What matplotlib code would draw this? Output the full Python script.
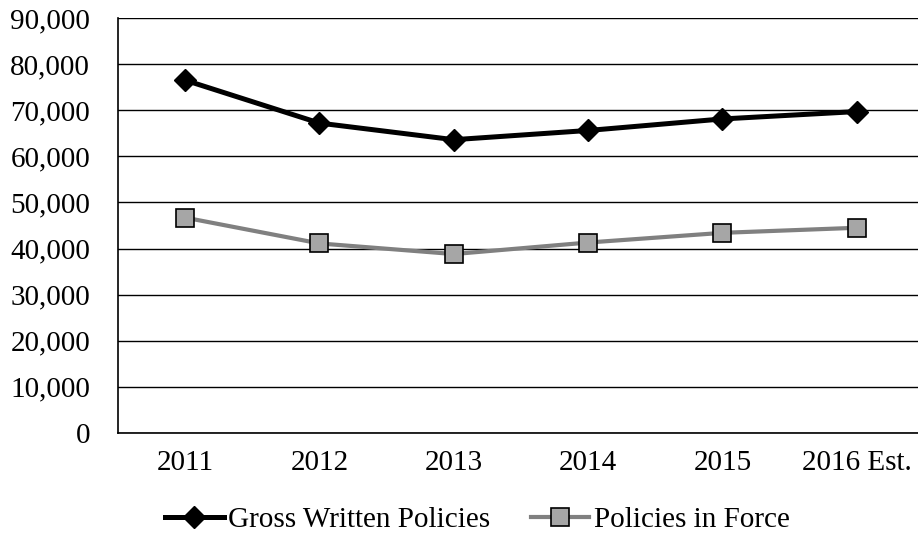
import matplotlib.pyplot as plt
from matplotlib.ticker import FuncFormatter

plt.rcParams['font.family'] = ['Liberation Serif', 'DejaVu Serif']

years = ["2011", "2012", "2013", "2014", "2015", "2016 Est."]
gross_written = [76500, 67200, 63600, 65600, 68100, 69700]
in_force = [46700, 41100, 38800, 41300, 43400, 44500]

fig = plt.figure(figsize=(9.18, 5.39), dpi=100)
ax = fig.add_axes([0.1285, 0.1967, 0.878, 0.770])

x = list(range(len(years)))
ax.plot(x, gross_written, color="black", lw=3.6, marker="D", ms=11,
        mfc="black", mec="black", label="Gross Written Policies", zorder=4)
ax.plot(x, in_force, color="#808080", lw=3.0, marker="s", ms=13.5,
        mfc="#A6A6A6", mec="black", mew=1.2, label="Policies in Force", zorder=3)

ax.set_xlim(-0.5, len(years) - 0.5)
ax.set_ylim(0, 90000)
ax.set_yticks(range(0, 90001, 10000))
ax.yaxis.set_major_formatter(FuncFormatter(lambda v, p: f"{int(v):,}"))
ax.set_xticks(x)
ax.set_xticklabels(years)
ax.tick_params(axis="both", length=0, labelsize=21)
ax.tick_params(axis="y", pad=20)
ax.tick_params(axis="x", pad=12)

ax.grid(axis="y", color="black", lw=1.0)
ax.set_axisbelow(True)
for side in ["top", "right"]:
    ax.spines[side].set_visible(False)
for side in ["left", "bottom"]:
    ax.spines[side].set_color("black")
    ax.spines[side].set_linewidth(1.2)

fig.legend(loc="center", bbox_to_anchor=(0.52, 0.035), ncol=2, frameon=False,
           fontsize=21, handlelength=2.0, handletextpad=0.15, columnspacing=1.4,
           borderpad=0, borderaxespad=0)

fig.savefig("out.png", dpi=100)
